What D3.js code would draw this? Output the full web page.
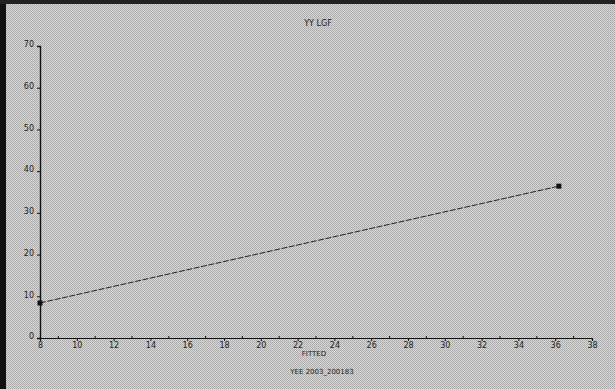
<!DOCTYPE html>
<html>
<head>
<meta charset="utf-8">
<script src="https://cdn.jsdelivr.net/npm/d3@7"></script>
<style>
  html, body { margin: 0; padding: 0; background: #c4c4c4; }
  svg { display: block; }
  text { font-family: "DejaVu Sans", sans-serif; fill: #222; }
</style>
</head>
<body>
<script>
// Chart data
const fittedValues = [8, 36.2];
const observedValues = [8.4, 36.4];
const xTickValues = [8, 10, 12, 14, 16, 18, 20, 22, 24, 26, 28, 30, 32, 34, 36, 38];
const yTickValues = [0, 10, 20, 30, 40, 50, 60, 70];
const titleText = "YY LGF";
const xTitleText = "FITTED";
const captionText = "YEE 2003_200183";

const W = 615, H = 389;
const svg = d3.select("body").append("svg").attr("width", W).attr("height", H);

// Dithered grey background
const defs = svg.append("defs");
const pat = defs.append("pattern").attr("id", "dither")
  .attr("width", 2).attr("height", 2).attr("patternUnits", "userSpaceOnUse");
pat.append("rect").attr("width", 2).attr("height", 2).attr("fill", "#d8d8d8");
pat.append("rect").attr("width", 1).attr("height", 1).attr("fill", "#a8a8a8");
pat.append("rect").attr("x", 1).attr("y", 1).attr("width", 1).attr("height", 1).attr("fill", "#b0b0b0");
svg.append("rect").attr("width", W).attr("height", H).attr("fill", "url(#dither)");

// Dark frame on the left and top
svg.append("rect").attr("x", 0).attr("y", 0).attr("width", 6).attr("height", H).attr("fill", "#111");
svg.append("rect").attr("x", 0).attr("y", 0).attr("width", W).attr("height", 4).attr("fill", "#222");

const x = d3.scaleLinear().domain([8, 38]).range([40, 592]);
const y = d3.scaleLinear().domain([0, 70]).range([338, 46]);

// Axes
const xAxis = d3.axisBottom(x).tickValues(xTickValues).tickSize(3).tickFormat(d3.format("d"));
const gx = svg.append("g").attr("transform", `translate(0,${y(0)})`).call(xAxis);
gx.select(".domain").attr("stroke", "#111").attr("stroke-width", 1.2);
gx.selectAll(".tick line").attr("stroke", "#111");
gx.selectAll(".tick text").attr("font-size", 8).attr("dy", "0.55em");

// Minor ticks on odd values
svg.append("g").selectAll("line").data(d3.range(9, 38, 2)).join("line")
  .attr("x1", d => x(d)).attr("x2", d => x(d))
  .attr("y1", y(0) - 2).attr("y2", y(0) + 1)
  .attr("stroke", "#111");

const yAxis = d3.axisLeft(y).tickValues(yTickValues).tickSize(3).tickFormat(d3.format("d"));
const gy = svg.append("g").attr("transform", `translate(${x(8)},0)`).call(yAxis);
gy.select(".domain").attr("stroke", "#111").attr("stroke-width", 1.4);
gy.selectAll(".tick line").attr("stroke", "#111");
gy.selectAll(".tick text").attr("font-size", 8).attr("dy", "0.1em");

// Line and markers
const pts = fittedValues.map((f, i) => [f, observedValues[i]]);
svg.append("path").datum(pts)
  .attr("fill", "none").attr("stroke", "#222").attr("stroke-width", 1)
  .attr("stroke-dasharray", "6,1.5")
  .attr("d", d3.line().x(d => x(d[0])).y(d => y(d[1])));
svg.append("g").selectAll("rect").data(pts).join("rect")
  .attr("x", d => x(d[0]) - 2.5).attr("y", d => y(d[1]) - 2.5)
  .attr("width", 5).attr("height", 5).attr("fill", "#111");

// Titles
svg.append("text").attr("x", 318).attr("y", 26).attr("text-anchor", "middle")
  .attr("font-size", 8).text(titleText);
svg.append("text").attr("x", 314).attr("y", 356).attr("text-anchor", "middle")
  .attr("font-size", 7).text(xTitleText);
svg.append("text").attr("x", 322).attr("y", 374).attr("text-anchor", "middle")
  .attr("font-size", 7).text(captionText);
</script>
</body>
</html>
